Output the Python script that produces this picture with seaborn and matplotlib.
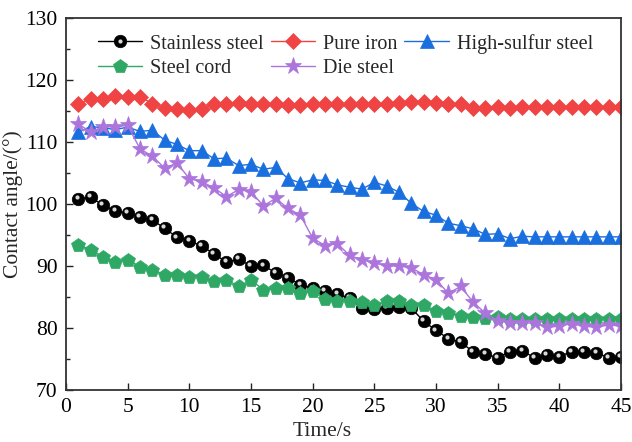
import seaborn as sns
import matplotlib.pyplot as plt
import pandas as pd
from matplotlib.transforms import offset_copy
from matplotlib.legend_handler import HandlerTuple

# Contact angle vs time for five steel grades
time_s = list(range(1, 46))

stainless = [100.8, 101.1, 99.8, 98.9, 98.5, 97.9, 97.4, 96.1, 94.6, 94.1,
             93.2, 92.0, 90.6, 91.1, 90.0, 90.1, 88.9, 88.1, 87.0, 86.4,
             86.0, 85.5, 84.8, 83.2, 83.0, 83.2, 83.4, 83.2, 81.1, 79.6,
             78.3, 77.7, 76.2, 75.8, 75.2, 76.2, 76.3, 75.2, 75.6, 75.4,
             76.2, 76.2, 76.0, 75.2, 75.4]
pure_iron = [116.1, 117.0, 117.0, 117.5, 117.3, 117.3, 116.2, 115.5, 115.4, 115.2,
             115.3, 116.2, 116.2, 116.3, 116.1, 116.1, 116.1, 116.0, 116.0, 116.1,
             116.1, 116.1, 116.1, 116.1, 116.1, 116.2, 116.3, 116.4, 116.4, 116.3,
             116.2, 116.1, 115.5, 115.5, 115.6, 115.5, 115.6, 115.6, 115.6, 115.6,
             115.6, 115.6, 115.6, 115.6, 115.6]
high_sulfur = [111.6, 112.5, 112.3, 112.0, 112.4, 111.7, 111.9, 110.3, 109.6, 108.6,
               108.6, 107.3, 107.4, 106.2, 106.4, 105.6, 105.9, 104.1, 103.4, 103.9,
               103.8, 103.1, 102.7, 102.4, 103.5, 102.9, 101.9, 100.1, 98.8, 98.2,
               96.9, 96.5, 96.0, 95.1, 95.2, 94.4, 94.8, 94.7, 94.7, 94.7,
               94.7, 94.7, 94.7, 94.7, 94.7]
steel_cord = [93.4, 92.6, 91.5, 90.7, 91.0, 89.9, 89.4, 88.6, 88.6, 88.3,
              88.2, 87.6, 87.8, 86.7, 87.7, 86.2, 86.4, 86.4, 85.6, 86.0,
              84.7, 84.4, 84.4, 84.2, 83.7, 84.3, 84.3, 83.7, 83.7, 82.7,
              82.4, 82.0, 81.7, 81.6, 81.8, 81.5, 81.5, 81.5, 81.5, 81.5,
              81.5, 81.5, 81.5, 81.5, 81.5]
die_steel = [112.9, 111.6, 112.5, 112.4, 112.7, 108.9, 107.7, 105.8, 106.6, 104.1,
             103.6, 102.6, 101.2, 102.3, 102.0, 99.7, 100.9, 99.3, 98.2, 94.5,
             93.3, 93.6, 91.7, 91.0, 90.5, 90.0, 90.0, 89.7, 88.6, 87.8,
             85.6, 86.7, 84.2, 82.4, 81.2, 80.8, 80.8, 80.8, 80.1, 80.3,
             80.7, 80.3, 80.1, 80.5, 80.3]

series = {
    'Stainless steel': (stainless, 'o', '#000000', 9),
    'Pure iron': (pure_iron, 'D', '#F04343', 8.5),
    'High-sulfur steel': (high_sulfur, '^', '#1A6FDF', 10.5),
    'Steel cord': (steel_cord, 'p', '#2FA866', 10.5),
    'Die steel': (die_steel, '*', '#AB75DC', 12.5),
}

sns.set_style("ticks")
plt.rcParams['font.family'] = ['Liberation Serif', 'DejaVu Serif']

fig = plt.figure(figsize=(6.32, 4.42), dpi=100)
ax = fig.add_axes([66 / 632, 1 - 390 / 442, 555 / 632, 372 / 442])

shine_tr = offset_copy(ax.transData, fig=fig, x=-1.3, y=1.3, units='points')

handles = {}
for name, (vals, mk, col, ms) in series.items():
    df = pd.DataFrame({'Time': time_s, 'Angle': vals})
    sns.lineplot(data=df, x='Time', y='Angle', ax=ax, color=col, linewidth=1.0,
                 marker=mk, markersize=ms, markeredgecolor=col, markeredgewidth=0.5)
    handles[name] = ax.lines[-1]
    if name == 'Stainless steel':
        # small highlight to mimic the glossy ball markers
        sns.lineplot(data=df, x='Time', y='Angle', ax=ax, color='#d8d8d8',
                     linestyle='', marker='o', markersize=3, markeredgewidth=0)
        shine = ax.lines[-1]
        shine.set_transform(shine_tr)
        handles[name] = (handles[name], shine)

ax.set_xlim(0, 45)
ax.set_ylim(70, 130)
ax.set_xticks(range(0, 46, 5))
ax.set_yticks(range(70, 131, 10))
ax.set_yticks(range(75, 130, 10), minor=True)
ax.tick_params(axis='both', which='major', direction='in', length=5, width=1,
               labelsize=15.5, colors='#222222', labelcolor='black', pad=6)
ax.tick_params(axis='y', which='minor', direction='in', length=3, width=1, colors='#222222')
ax.tick_params(top=False, right=False)
for sp in ax.spines.values():
    sp.set_linewidth(1.3)
    sp.set_color('#333333')

ax.set_xlabel('Time/s', fontsize=15.5)
ax.set_ylabel('Contact angle/(°)', fontsize=15.5)
ax.xaxis.set_label_coords((322 - 66) / 555, -0.086)
ax.yaxis.set_label_coords(-0.077, 0.5)

order = ['Stainless steel', 'Steel cord', 'Pure iron', 'Die steel', 'High-sulfur steel']
ax.legend([handles[n] for n in order], order, ncol=3, frameon=False,
          loc='upper left', bbox_to_anchor=(0.057, 0.958), borderaxespad=0,
          borderpad=0, fontsize=14.5, handlelength=2.2, handletextpad=0.4,
          columnspacing=0.35, labelspacing=0.25,
          handler_map={tuple: HandlerTuple(ndivide=1, pad=0)})

fig.savefig('out.png', dpi=100, facecolor='white')
